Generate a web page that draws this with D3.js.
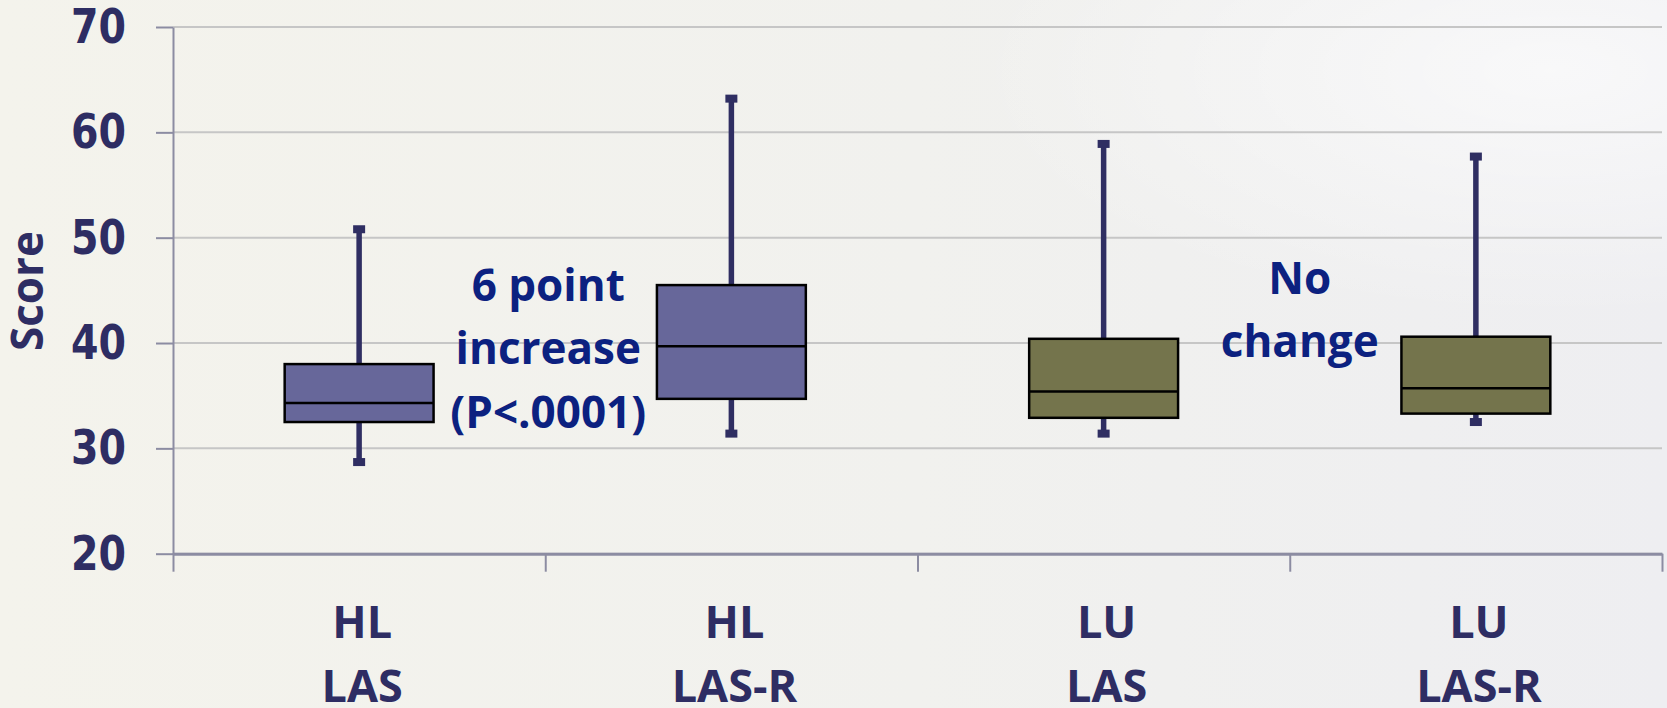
<!DOCTYPE html>
<html>
<head>
<meta charset="utf-8">
<script src="https://cdn.jsdelivr.net/npm/d3@7"></script>
<style>
html, body { margin: 0; padding: 0; overflow: hidden; background: #f2f1ed; }
</style>
</head>
<body>
<div id="chart"></div>
<script>
// box plot values
var groups = ["HL", "HL", "LU", "LU"]
var tests = ["LAS", "LAS-R", "LAS", "LAS-R"]
var lowValues = [28.7, 31.4, 31.4, 32.5]
var q1Values = [32.5, 34.7, 32.9, 33.3]
var medianValues = [34.3, 39.7, 35.4, 35.7]
var q3Values = [38.0, 45.5, 40.4, 40.6]
var highValues = [50.8, 63.2, 58.9, 57.7]
var yTicks = [20, 30, 40, 50, 60, 70]
var yTitle = "Score"
var noteLines = [["6 point", "increase", "(P<.0001)"], ["No", "change"]]

var width = 1667, height = 708
var margin = {top: 27, right: 5, bottom: 154.3, left: 173}

var navy = "#2e2d63"
var calibriLike = "'Open Sans', 'Noto Sans', sans-serif"

var svg = d3.select("#chart")
  .append("svg")
    .attr("width", width)
    .attr("height", height)

// slide background
var defs = svg.append("defs")
var bg = defs.append("linearGradient").attr("id", "bg").attr("x1", 0).attr("x2", 1).attr("y1", 0).attr("y2", 0)
bg.append("stop").attr("offset", "0%").attr("stop-color", "#f4f3ec")
bg.append("stop").attr("offset", "55%").attr("stop-color", "#f1f1ee")
bg.append("stop").attr("offset", "100%").attr("stop-color", "#eeeef1")
var glow = defs.append("radialGradient").attr("id", "glow").attr("cx", 0.93).attr("cy", 0.1).attr("r", 0.35)
glow.append("stop").attr("offset", "0%").attr("stop-color", "#ffffff").attr("stop-opacity", 0.6)
glow.append("stop").attr("offset", "100%").attr("stop-color", "#ffffff").attr("stop-opacity", 0)

svg.append("rect").attr("width", width).attr("height", height).attr("fill", "url(#bg)")
svg.append("rect").attr("width", width).attr("height", height).attr("fill", "url(#glow)")

var y = d3.scaleLinear()
  .domain([20, 70])
  .range([height - margin.bottom, margin.top])

var x = d3.scaleBand()
  .domain(d3.range(groups.length))
  .range([margin.left, width - margin.right])

// category edges, Excel puts the ticks between the boxes
var xEdge = d3.scaleLinear()
  .domain([0, groups.length])
  .range([margin.left, width - margin.right])

var color = d3.scaleOrdinal()
  .domain(["HL", "LU"])
  .range(["#67679a", "#74744c"])

// gridlines
svg.append("g")
  .selectAll("line")
  .data(yTicks)
  .enter()
  .append("line")
    .attr("x1", margin.left)
    .attr("x2", width - margin.right)
    .attr("y1", d => y(d))
    .attr("y2", d => y(d))
    .attr("stroke", "#c6c6c6")
    .attr("stroke-width", 2)

// Y axis
var yAxis = svg.append("g")
  .attr("transform", "translate(" + margin.left + ",0)")
  .call(d3.axisLeft(y).tickValues(yTicks).tickSizeInner(17).tickSizeOuter(0).tickPadding(30))
yAxis.select(".domain").attr("stroke", "#8c8ca2").attr("stroke-width", 2)
yAxis.selectAll(".tick line").attr("stroke", "#8c8ca2").attr("stroke-width", 2)
yAxis.selectAll("text")
  .attr("fill", navy)
  .style("font-family", "'DejaVu Sans', Verdana, sans-serif")
  .style("font-weight", "bold")
  .style("font-size", "48px")
  .attr("textLength", 55)
  .attr("lengthAdjust", "spacingAndGlyphs")

// X axis line with the edge ticks
var xAxis = svg.append("g")
  .attr("transform", "translate(0," + y(20) + ")")
  .call(d3.axisBottom(xEdge).tickValues(d3.range(groups.length + 1)).tickSizeInner(18).tickSizeOuter(0).tickFormat(""))
xAxis.select(".domain").attr("stroke", "#8c8ca2").attr("stroke-width", 3)
xAxis.selectAll(".tick line").attr("stroke", "#8c8ca2").attr("stroke-width", 2)

// category labels, two lines each
var labelAxis = svg.append("g")
  .attr("transform", "translate(0," + y(20) + ")")
  .call(d3.axisBottom(x).tickSize(0).tickFormat(i => groups[i]))
labelAxis.select(".domain").remove()
labelAxis.selectAll("text")
  .attr("y", null)
  .attr("dy", null)
  .attr("fill", navy)
  .style("font-family", calibriLike)
  .style("font-weight", "bold")
  .style("font-size", "45px")
  .each(function(i) {
    var t = d3.select(this)
    t.text(null)
    t.append("tspan").attr("x", 3).attr("y", 84).text(groups[i])
    t.append("tspan").attr("x", 3).attr("y", 148).text(tests[i])
  })

// Y title
svg.append("text")
  .attr("transform", "translate(43," + 291 + ") rotate(-90)")
  .attr("text-anchor", "middle")
  .attr("fill", navy)
  .style("font-family", calibriLike)
  .style("font-weight", "bold")
  .style("font-size", "44px")
  .text(yTitle)

// boxes
var boxW = x.bandwidth() * 0.4
var boxes = svg.append("g")
  .selectAll("g")
  .data(d3.range(groups.length))
  .enter()
  .append("g")
    .attr("transform", i => "translate(" + (x(i) + x.bandwidth() / 2) + ",0)")

boxes.append("line")
  .attr("y1", i => y(lowValues[i]))
  .attr("y2", i => y(highValues[i]))
  .attr("stroke", "#2f2e62")
  .attr("stroke-width", 5.5)

boxes.selectAll(".cap")
  .data(i => [lowValues[i], highValues[i]])
  .enter()
  .append("rect")
    .attr("class", "cap")
    .attr("x", -6)
    .attr("y", d => y(d) - 4)
    .attr("width", 12)
    .attr("height", 8)
    .attr("fill", "#2f2e62")

boxes.append("rect")
  .attr("x", -boxW / 2)
  .attr("y", i => y(q3Values[i]))
  .attr("width", boxW)
  .attr("height", i => y(q1Values[i]) - y(q3Values[i]))
  .attr("fill", i => color(groups[i]))
  .attr("stroke", "#000")
  .attr("stroke-width", 2.5)

boxes.append("line")
  .attr("x1", -boxW / 2)
  .attr("x2", boxW / 2)
  .attr("y1", i => y(medianValues[i]))
  .attr("y2", i => y(medianValues[i]))
  .attr("stroke", "#000")
  .attr("stroke-width", 2.5)

// annotations between the pairs
var noteX = [xEdge(1) + 3, xEdge(3) + 10]
var noteTop = [44.0, 44.7]
noteLines.forEach(function(lines, k) {
  var t = svg.append("text")
    .attr("text-anchor", "middle")
    .attr("fill", "#0c2180")
    .style("font-family", calibriLike)
    .style("font-weight", "bold")
    .style("font-size", "44px")
  lines.forEach(function(line, j) {
    t.append("tspan")
      .attr("x", noteX[k])
      .attr("y", y(noteTop[k]) + j * 63.5)
      .text(line)
  })
})
</script>
</body>
</html>
